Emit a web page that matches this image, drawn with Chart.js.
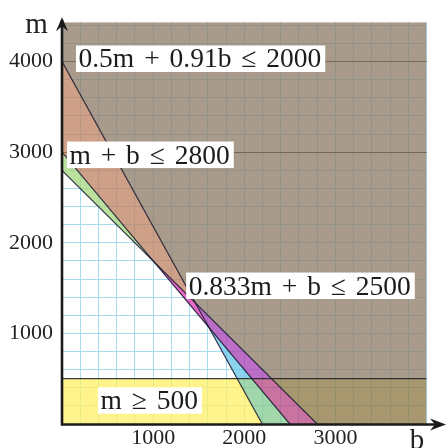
<!DOCTYPE html>
<html>
<head>
<meta charset="utf-8">
<script src="https://cdn.jsdelivr.net/npm/chart.js@4.4.1/dist/chart.umd.min.js"></script>
<style>
  html, body { margin: 0; padding: 0; background: #ffffff; }
  #wrap { width: 446px; height: 448px; position: relative; }
</style>
</head>
<body>
<div id="wrap"><canvas id="c" width="446" height="448"></canvas></div>
<script>
// Constraints of the form bCoef*b + mCoef*m <= rhs
const constraintLabels = ['0.5m + 0.91b ≤ 2000', 'm + b ≤ 2800', '0.833m + b ≤ 2500'];
const mCoef = [0.5, 1, 0.833];
const bCoef = [0.91, 1, 1];
const rhs = [2000, 2800, 2500];
// Lower bound on m
const minLabel = 'm ≥ 500';
const minM = 500;
// Axis ranges and labelled ticks
const bRange = [0, 4000];
const mRange = [0, 4435];
const bTickValues = [1000, 2000, 3000];
const mTickValues = [1000, 2000, 3000, 4000];
const gridStep = 200;

// Where each inequality label sits (b, m of the text's left baseline)
const labelAnchors = [
  { b: 181, m: 3935 },
  { b: 82, m: 2875 },
  { b: 1390, m: 1429 },
  { b: 423, m: 163 }
];

// Fill for each combination of violated constraints (A,B,C = the three lines, D = m below 500)
const regionColors = {
  A: 'rgba(102,198,232,0.75)',
  B: 'rgba(166,215,126,0.75)',
  C: 'rgba(224,55,182,0.75)',
  AC: 'rgba(166,62,179,0.75)',
  BC: 'rgba(188,128,95,0.75)',
  ABC: 'rgba(139,122,102,0.75)',
  D: 'rgba(255,239,102,0.75)',
  AD: 'rgba(131,202,144,0.75)',
  ACD: 'rgba(182,68,128,0.75)',
  ABCD: 'rgba(139,118,64,0.75)'
};

const SERIF = '"Liberation Serif", "DejaVu Serif", serif';

// Keep the part of a polygon on one side of a*x + c*y = k
function clipHalfPlane(poly, a, c, k, keepAbove) {
  const side = p => { const v = a * p.x + c * p.y - k; return keepAbove ? v : -v; };
  const out = [];
  for (let i = 0; i < poly.length; i++) {
    const P = poly[i], Q = poly[(i + 1) % poly.length];
    const fp = side(P), fq = side(Q);
    if (fp >= 0) out.push(P);
    if ((fp >= 0) !== (fq >= 0)) {
      const t = fp / (fp - fq);
      out.push({ x: P.x + t * (Q.x - P.x), y: P.y + t * (Q.y - P.y) });
    }
  }
  return out;
}
function polyArea(poly) {
  let s = 0;
  for (let i = 0; i < poly.length; i++) {
    const P = poly[i], Q = poly[(i + 1) % poly.length];
    s += P.x * Q.y - Q.x * P.y;
  }
  return Math.abs(s) / 2;
}

const letters = ['A', 'B', 'C'];
const regionSets = [];
for (let mask = 0; mask < 16; mask++) {
  let poly = [
    { x: bRange[0], y: mRange[0] }, { x: bRange[1], y: mRange[0] },
    { x: bRange[1], y: mRange[1] }, { x: bRange[0], y: mRange[1] }
  ];
  let key = '';
  for (let i = 0; i < 3; i++) {
    const violated = !!(mask & (1 << i));
    if (violated) key += letters[i];
    poly = clipHalfPlane(poly, bCoef[i], mCoef[i], rhs[i], violated);
  }
  const belowMin = !!(mask & 8);
  if (belowMin) key += 'D';
  poly = clipHalfPlane(poly, 0, 1, minM, !belowMin);
  if (poly.length >= 3 && polyArea(poly) > 1 && regionColors[key]) {
    regionSets.push({
      data: poly.map(p => ({ x: p.x, y: p.y })),
      showLine: true,
      fill: 'shape',
      backgroundColor: regionColors[key],
      borderWidth: 0,
      pointRadius: 0,
      order: 2
    });
  }
}

// Boundary lines
const lineSets = rhs.map((r, i) => ({
  data: [{ x: 0, y: r / mCoef[i] }, { x: r / bCoef[i], y: 0 }],
  showLine: true,
  fill: false,
  borderColor: 'rgba(20,20,45,0.85)',
  borderWidth: 1.2,
  pointRadius: 0,
  order: 1
}));
lineSets.push({
  data: [{ x: bRange[0], y: minM }, { x: bRange[1], y: minM }],
  showLine: true,
  fill: false,
  borderColor: 'rgba(35,35,35,0.9)',
  borderWidth: 1.3,
  pointRadius: 0,
  order: 1
});

// Regular grid ticks every gridStep across a range
function gridTicks(lo, hi) {
  const out = [];
  for (let v = lo; v <= hi; v += gridStep) out.push({ value: v });
  return out;
}

// Axes with arrowheads, axis letters and the boxed inequality labels
const overlay = {
  id: 'overlay',
  afterDraw(chart) {
    const { ctx, chartArea: ca, scales } = chart;
    const xs = scales.x, ys = scales.y;
    const x0 = xs.getPixelForValue(0);
    const y0 = ys.getPixelForValue(0) + 0.5;
    ctx.save();
    ctx.strokeStyle = '#1a1a1a';
    ctx.fillStyle = '#1a1a1a';
    ctx.lineWidth = 2.6;
    ctx.beginPath();
    ctx.moveTo(x0, y0 + 1.3);
    ctx.lineTo(x0, ca.top - 2);
    ctx.moveTo(x0 - 1.3, y0);
    ctx.lineTo(chart.width - 8, y0);
    ctx.stroke();
    // up arrow
    const tipY = ca.top - 5;
    ctx.beginPath();
    ctx.moveTo(x0, tipY);
    ctx.lineTo(x0 + 6, tipY + 14);
    ctx.lineTo(x0, tipY + 9);
    ctx.lineTo(x0 - 6, tipY + 14);
    ctx.closePath();
    ctx.fill();
    // right arrow
    const tipX = chart.width;
    ctx.beginPath();
    ctx.moveTo(tipX, y0);
    ctx.lineTo(tipX - 16, y0 - 6);
    ctx.lineTo(tipX - 11, y0);
    ctx.lineTo(tipX - 16, y0 + 6);
    ctx.closePath();
    ctx.fill();

    // axis letters
    ctx.font = '29px ' + SERIF;
    ctx.fillStyle = '#222';
    ctx.textAlign = 'center';
    ctx.textBaseline = 'alphabetic';
    ctx.fillText('m', 36.5, 33);
    ctx.fillText('b', 417, 449);

    // inequality labels
    const texts = constraintLabels.concat([minLabel]);
    ctx.font = '27.5px ' + SERIF;
    ctx.textAlign = 'left';
    if ('wordSpacing' in ctx) ctx.wordSpacing = '3px';
    texts.forEach((t, i) => {
      const px = xs.getPixelForValue(labelAnchors[i].b);
      const py = ys.getPixelForValue(labelAnchors[i].m);
      const w = ctx.measureText(t).width;
      ctx.fillStyle = '#ffffff';
      ctx.fillRect(px - 2.5, py - 22, w + 6.5, 26.5);
      ctx.fillStyle = '#1c1c1c';
      ctx.fillText(t, px, py);
    });
    ctx.restore();
  }
};

new Chart(document.getElementById('c'), {
  type: 'scatter',
  data: { datasets: lineSets.concat(regionSets) },
  options: {
    responsive: false,
    animation: false,
    events: [],
    layout: { padding: { top: 16, right: 19.5, left: 0, bottom: 0 } },
    plugins: { legend: { display: false }, tooltip: { enabled: false } },
    scales: {
      x: {
        type: 'linear',
        min: bRange[0],
        max: bRange[1],
        afterFit(scale) { scale.height = 24; },
        afterBuildTicks(scale) { scale.ticks = gridTicks(bRange[0], bRange[1]); },
        border: { display: false },
        grid: { color: '#a6dcef', lineWidth: 1, drawTicks: false },
        ticks: {
          autoSkip: false,
          maxRotation: 0,
          padding: 1,
          color: '#222',
          font: { family: SERIF, size: 22 },
          callback: v => (bTickValues.includes(v) ? String(v) : '')
        }
      },
      y: {
        type: 'linear',
        min: mRange[0],
        max: mRange[1],
        afterFit(scale) { scale.width = 62; },
        afterBuildTicks(scale) { scale.ticks = gridTicks(mRange[0], mRange[1]); },
        border: { display: false },
        grid: {
          drawTicks: false,
          lineWidth: 1,
          color: c => (c.tick && (c.tick.value === 3000 || c.tick.value === 4000)) ? '#3a3028' : '#a6dcef'
        },
        ticks: {
          autoSkip: false,
          padding: 9,
          color: '#222',
          font: { family: SERIF, size: 22 },
          callback: v => (mTickValues.includes(v) ? String(v) : '')
        }
      }
    }
  },
  plugins: [overlay]
});
</script>
</body>
</html>
